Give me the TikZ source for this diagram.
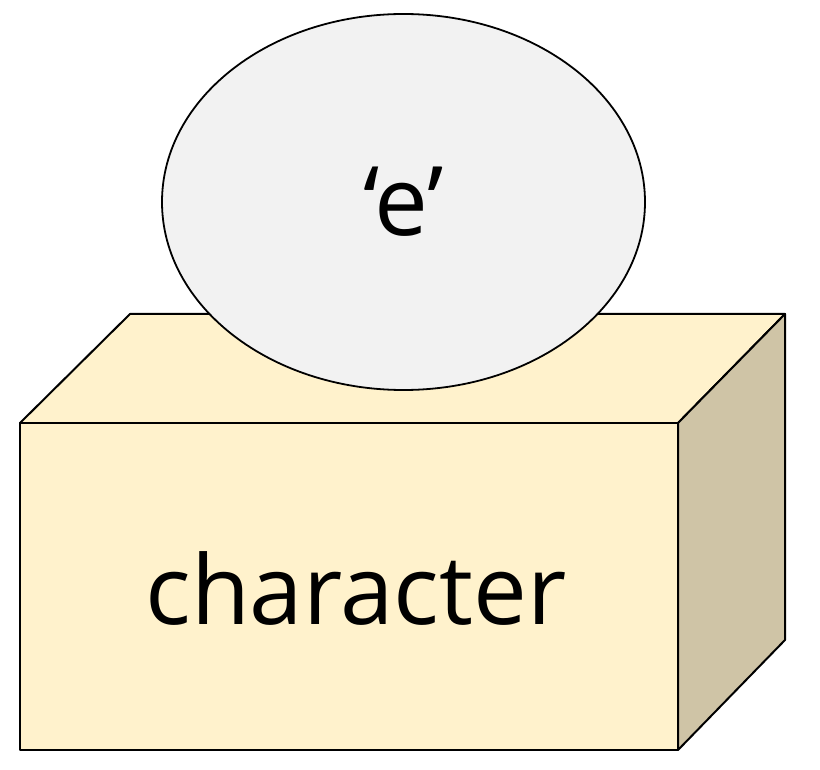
\documentclass[tikz,border=0pt]{standalone}
\usepackage{fontspec}
\setmainfont{Open Sans}
\usepackage{tikz}
\usetikzlibrary{shapes.geometric, positioning}
\definecolor{boxfront}{RGB}{255,242,204}
\definecolor{boxside}{RGB}{207,196,166}
\definecolor{ballgray}{RGB}{242,242,242}

\begin{document}
\begin{tikzpicture}[
        x=1pt, y=-1pt,
        face/.style={draw=black, line width=2pt, line join=round},
        ball/.style={ellipse, draw=black, line width=1.8pt, fill=ballgray,
                     minimum width=483pt, minimum height=376pt, inner sep=0pt,
                     font=\fontsize{96}{112}\selectfont},
        lbl/.style={font=\fontsize{96}{112}\selectfont, inner sep=0pt}
      ]
        \useasboundingbox (0,0) rectangle (820,770);
        % box corners
        \coordinate (ftl) at (20,423);
        \coordinate (ftr) at (678,423);
        \coordinate (fbr) at (678,750);
        \coordinate (fbl) at (20,750);
        \coordinate (btl) at (130,314);
        \coordinate (btr) at (785,314);
        \coordinate (bbr) at (785,640);
        % faces
        \draw[face, fill=boxfront] (ftl) -- (btl) -- (btr) -- (ftr) -- cycle;
        \draw[face, fill=boxside] (ftr) -- (btr) -- (bbr) -- (fbr) -- cycle;
        \draw[face, fill=boxfront] (ftl) -- (ftr) -- (fbr) -- (fbl) -- cycle;
        \node[lbl] (type) at (356,588) {character};
        % value on top
        \node[ball] (value) at (403.5,202) {‘e’};
      \end{tikzpicture}
\end{document}
